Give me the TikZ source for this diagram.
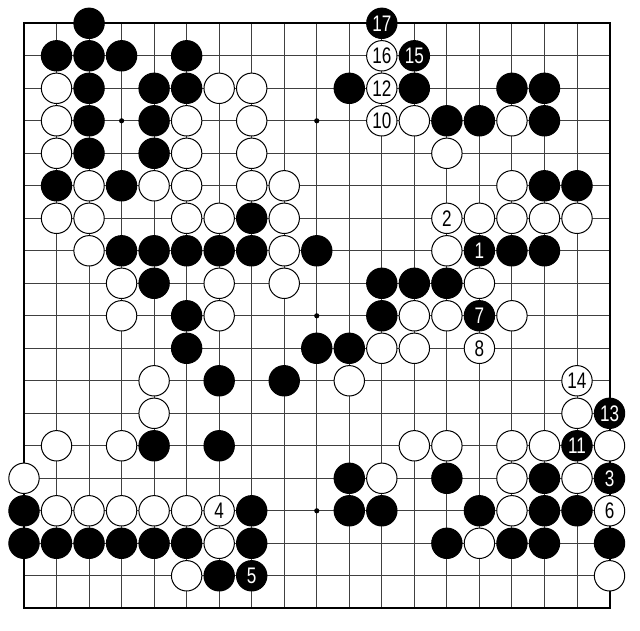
\documentclass[tikz,border=0pt]{standalone}
\usepackage{fontspec}
\setmainfont{Liberation Sans}
\newfontfamily\numfont[FakeStretch=0.76]{Liberation Sans}
\tikzset{
  gridline/.style={draw=black!75, line width=0.9pt},
  boardedge/.style={draw=black, line width=2pt},
  hoshi/.style={fill=black},
  stone/.style={circle, minimum size=30.4pt, inner sep=0pt, line width=1pt,
    font=\numfont\fontsize{22.5}{22.5}\selectfont},
  bstone/.style={stone, draw=black, fill=black, text=white},
  wstone/.style={stone, draw=black, fill=white, text=black}
}
\begin{document}
\begin{tikzpicture}[x=32.53pt,y=-32.5pt]
\useasboundingbox (-0.7378,-0.717) rectangle (18.937,18.698);
\fill[white] (-0.7378,-0.717) rectangle (18.937,18.698);
\foreach \k in {1,...,17} {
  \draw[gridline] (\k,0) -- (\k,18);
  \draw[gridline] (0,\k) -- (18,\k);
}
\draw[boardedge] (0,0) rectangle (18,18);
\foreach \a in {3,9,15} \foreach \b in {3,9,15} \fill[hoshi] (\a,\b) circle (2.6pt);
% black stones
\foreach \i/\j in {2/0,
  1/1,2/1,3/1,5/1,
  2/2,4/2,5/2,10/2,12/2,15/2,16/2,
  2/3,4/3,13/3,14/3,16/3,
  2/4,4/4,
  1/5,3/5,16/5,17/5,
  7/6,
  3/7,4/7,5/7,6/7,7/7,9/7,15/7,16/7,
  4/8,11/8,12/8,13/8,
  5/9,11/9,
  5/10,9/10,10/10,
  6/11,8/11,
  4/13,6/13,
  10/14,13/14,16/14,
  0/15,7/15,10/15,11/15,14/15,16/15,17/15,
  0/16,1/16,2/16,3/16,4/16,5/16,7/16,13/16,15/16,16/16,18/16,
  6/17}
  \node[bstone] (b-\i-\j) at (\i,\j) {};
% white stones
\foreach \i/\j in {1/2,6/2,7/2,
  1/3,5/3,7/3,12/3,15/3,
  1/4,5/4,7/4,13/4,
  2/5,4/5,5/5,7/5,8/5,15/5,
  1/6,2/6,5/6,6/6,8/6,14/6,15/6,16/6,17/6,
  2/7,8/7,13/7,
  3/8,6/8,8/8,14/8,
  3/9,6/9,12/9,13/9,15/9,
  11/10,12/10,
  4/11,10/11,
  4/12,17/12,
  1/13,3/13,12/13,13/13,15/13,16/13,18/13,
  0/14,11/14,15/14,17/14,
  1/15,2/15,3/15,4/15,5/15,15/15,
  6/16,14/16,
  5/17,18/17}
  \node[wstone] (w-\i-\j) at (\i,\j) {};
% numbered moves
\node[bstone] (m1) at (14,7) {1};
\node[wstone] (m2) at (13,6) {2};
\node[bstone] (m3) at (18,14) {3};
\node[wstone] (m4) at (6,15) {4};
\node[bstone] (m5) at (7,17) {5};
\node[wstone] (m6) at (18,15) {6};
\node[bstone] (m7) at (14,9) {7};
\node[wstone] (m8) at (14,10) {8};
\node[wstone] (m10) at (11,3) {10};
\node[bstone] (m11) at (17,13) {11};
\node[wstone] (m12) at (11,2) {12};
\node[bstone] (m13) at (18,12) {13};
\node[wstone] (m14) at (17,11) {14};
\node[bstone] (m15) at (12,1) {15};
\node[wstone] (m16) at (11,1) {16};
\node[bstone] (m17) at (11,0) {17};
\end{tikzpicture}
\end{document}
